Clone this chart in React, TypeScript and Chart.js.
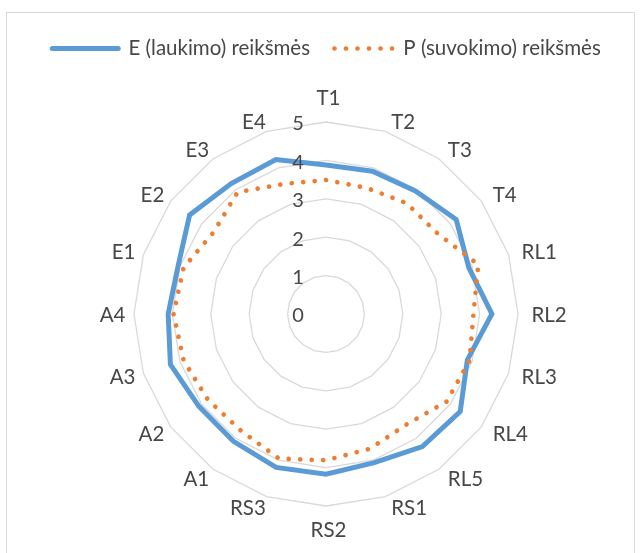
import React, { useEffect, useRef } from 'react';
import { Chart, registerables } from 'chart.js';

Chart.register(...registerables);

// ---- data ----
const categories = ['T1', 'T2', 'T3', 'T4', 'RL1', 'RL2', 'RL3', 'RL4', 'RL5', 'RS1', 'RS2', 'RS3', 'A1', 'A2', 'A3', 'A4', 'E1', 'E2', 'E3', 'E4'];
const expectationValues = [3.88, 3.91, 3.96, 4.19, 3.91, 4.32, 3.87, 4.32, 4.27, 4.07, 4.17, 4.2, 4.1, 4.09, 4.26, 4.11, 4.05, 4.39, 4.2, 4.23];
const perceptionValues = [3.49, 3.45, 3.57, 3.58, 4.17, 3.84, 3.93, 3.88, 3.56, 3.69, 3.81, 3.96, 3.76, 3.8, 3.9, 3.97, 3.9, 3.62, 3.92, 3.56];
const seriesNames = ['E (laukimo) reikšmės', 'P (suvokimo) reikšmės'];
const tickValues = [0, 1, 2, 3, 4, 5];

const FONT = 'Lato, "Open Sans", "DejaVu Sans", sans-serif';
const TEXT = '#474747';
const LEGEND_SIZE = 20.5;

const framePlugin = {
  id: 'frame',
  beforeDraw(chart: any) {
    const ctx = chart.ctx;
    ctx.save();
    ctx.strokeStyle = '#d9d9d9';
    ctx.lineWidth = 1;
    ctx.strokeRect(6.5, 12.5, 628, 600);
    ctx.restore();
  },
};

const radarTextPlugin = {
  id: 'radarText',
  afterDraw(chart: any) {
    const scale = chart.scales.r;
    const ctx = chart.ctx;
    ctx.save();
    ctx.fillStyle = TEXT;
    ctx.textAlign = 'center';
    ctx.textBaseline = 'middle';
    ctx.font = `20px ${FONT}`;
    tickValues.forEach((v) => {
      const d = scale.getDistanceFromCenterForValue(v);
      ctx.fillText(String(v), scale.xCenter - 28, scale.yCenter - d + 2);
    });
    ctx.font = `20.5px ${FONT}`;
    categories.forEach((label, i) => {
      const angle = scale.getIndexAngle(i);
      const s = Math.sin(angle);
      const c = Math.cos(angle);
      const p = scale.getPointPosition(i, scale.drawingArea + 11);
      const w = ctx.measureText(label).width;
      let x = p.x + 2.5;
      let y = p.y + 1;
      if (Math.abs(s) < 1e-6) {
        y = c > 0 ? p.y - 12.5 : p.y + 13.5;
      } else {
        x += Math.sign(s) * (w / 2);
      }
      ctx.fillText(label, x, y);
    });
    ctx.restore();
  },
};

export default function App() {
  const canvasRef = useRef<HTMLCanvasElement | null>(null);

  useEffect(() => {
    if (!canvasRef.current) return;
    Chart.defaults.font.family = FONT;
    const chart = new Chart(canvasRef.current, {
      type: 'radar',
      data: {
        labels: categories,
        datasets: [
          {
            label: seriesNames[0],
            data: expectationValues,
            borderColor: '#5b9bd5',
            backgroundColor: 'rgba(0,0,0,0)',
            borderWidth: 5,
            borderCapStyle: 'round',
            borderJoinStyle: 'miter',
            fill: false,
            pointRadius: 0,
            pointHoverRadius: 0,
            tension: 0,
            order: 1,
          },
          {
            label: seriesNames[1],
            data: perceptionValues,
            borderColor: '#ed7d31',
            backgroundColor: 'rgba(0,0,0,0)',
            borderWidth: 4.7,
            borderDash: [0.01, 11.5],
            borderCapStyle: 'round',
            borderJoinStyle: 'round',
            fill: false,
            pointRadius: 0,
            pointHoverRadius: 0,
            tension: 0,
            order: 0,
          },
        ],
      },
      options: {
        responsive: false,
        animation: false,
        devicePixelRatio: 1,
        events: [],
        layout: { padding: { top: 21.25, left: 12, right: 0, bottom: 46.5 } },
        scales: {
          r: {
            min: 0,
            max: 5,
            ticks: { display: false, stepSize: 1 },
            grid: { color: '#d9d9d9', lineWidth: 1.3, circular: false },
            angleLines: { display: false },
            pointLabels: { display: false },
          },
        },
        plugins: {
          tooltip: { enabled: false },
          title: {
            display: true,
            text: '',
            weight: 500,
            padding: 0,
            font: { size: 53.75, lineHeight: 1 },
          },
          legend: {
            position: 'top',
            labels: {
              usePointStyle: true,
              pointStyleWidth: 66,
              padding: 17,
              color: TEXT,
              font: { family: FONT, size: LEGEND_SIZE },
              generateLabels: (c: any) =>
                c.data.datasets.map((ds: any, i: number) => ({
                  text: ds.label,
                  fillStyle: ds.borderColor,
                  strokeStyle: ds.borderColor,
                  lineWidth: ds.borderWidth,
                  lineCap: ds.borderCapStyle,
                  lineJoin: 'round',
                  lineDash: ds.borderDash || [],
                  lineDashOffset: i === 1 ? 4.1 : 0,
                  pointStyle: 'line',
                  hidden: false,
                  datasetIndex: i,
                  fontColor: TEXT,
                })),
            },
          },
        },
      } as any,
      plugins: [framePlugin, radarTextPlugin],
    });
    return () => chart.destroy();
  }, []);

  return (
    <div style={{ position: 'fixed', left: 0, top: 0, width: 641, height: 553, overflow: 'hidden', background: '#fff' }}>
      <canvas ref={canvasRef} width={641} height={553} style={{ display: 'block' }} />
    </div>
  );
}
